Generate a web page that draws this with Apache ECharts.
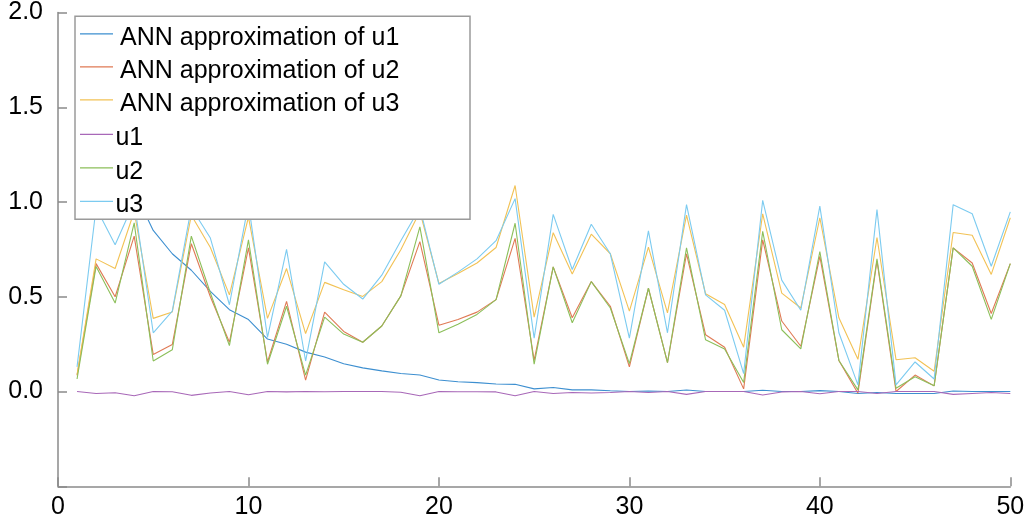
<!DOCTYPE html>
<html>
<head>
<meta charset="utf-8">
<script src="https://cdn.jsdelivr.net/npm/echarts@6/dist/echarts.min.js"></script>
<style>
html,body{margin:0;padding:0;background:#fff;}
#wrap{position:relative;width:1029px;height:523px;}
#chart{position:absolute;left:0;top:0;width:1029px;height:523px;}
#legendBox{position:absolute;left:74px;top:15px;width:398px;height:206px;}
</style>
</head>
<body>
<div id="wrap">
  <div id="chart"></div>
  <div id="legendBox"></div>
</div>
<script>
// x positions 1..50
const xs = Array.from({length: 50}, (_, i) => i + 1);
const xTicks = [0, 10, 20, 30, 40, 50];
const yTicks = [0.0, 0.5, 1.0, 1.5, 2.0];

const annU1 = [1.35,1.25,1.15,1.06,0.85,0.727,0.64,0.528,0.432,0.38,
  0.277,0.25,0.208,0.182,0.147,0.125,0.109,0.095,0.087,0.061,
  0.052,0.047,0.04,0.038,0.014,0.021,0.009,0.009,0.004,0.0,
  0.003,0.0,0.008,0.0,0.0,0.0,0.007,0.0,0.0,0.005,
  0.0,-0.01,-0.005,-0.01,-0.01,-0.01,0.003,0.0,0.0,0.0];
const annU2 = [0.085,0.675,0.50,0.82,0.196,0.248,0.78,0.50,0.26,0.758,
  0.156,0.476,0.06,0.419,0.317,0.26,0.346,0.505,0.791,0.35,
  0.38,0.419,0.485,0.808,0.164,0.658,0.389,0.58,0.45,0.13,
  0.545,0.152,0.727,0.30,0.234,0.014,0.80,0.372,0.239,0.713,
  0.164,-0.009,0.69,0.0,0.087,0.03,0.758,0.678,0.412,0.675];
const annU3 = [0.09,0.70,0.649,0.95,0.386,0.42,0.93,0.76,0.51,0.92,
  0.386,0.649,0.306,0.576,0.537,0.502,0.58,0.748,0.95,0.57,
  0.623,0.678,0.76,1.087,0.393,0.838,0.62,0.83,0.727,0.424,
  0.762,0.415,0.931,0.516,0.459,0.234,0.938,0.519,0.441,0.917,
  0.389,0.17,0.813,0.168,0.178,0.107,0.839,0.825,0.618,0.917];
const u1 = [0,-0.01,-0.006,-0.022,0,-0.001,-0.02,-0.008,0,-0.017,
  0,-0.002,0,-0.001,0,0,0,-0.004,-0.022,0,
  -0.001,-0.001,-0.002,-0.022,0,-0.01,-0.005,-0.008,-0.005,0,
  -0.005,0,-0.015,0,0,0,-0.018,-0.002,0,-0.012,
  0,0,-0.01,0,0,0,-0.015,-0.01,-0.005,-0.01];
const u2 = [0.066,0.66,0.467,0.89,0.161,0.22,0.82,0.52,0.242,0.80,
  0.144,0.45,0.087,0.393,0.303,0.26,0.346,0.505,0.869,0.31,
  0.355,0.407,0.485,0.888,0.144,0.658,0.363,0.58,0.441,0.147,
  0.545,0.152,0.758,0.273,0.225,0.048,0.845,0.326,0.225,0.739,
  0.164,0.009,0.70,0.017,0.078,0.03,0.758,0.661,0.381,0.675];
const u3 = [0.13,0.97,0.775,1.0,0.31,0.424,0.97,0.81,0.458,0.99,
  0.286,0.75,0.161,0.684,0.566,0.488,0.614,0.796,0.97,0.566,
  0.63,0.70,0.796,1.018,0.282,0.935,0.644,0.883,0.727,0.282,
  0.848,0.31,0.986,0.51,0.429,0.095,1.009,0.588,0.429,0.978,
  0.31,0.035,0.96,0.035,0.156,0.066,0.986,0.938,0.661,0.948];

const names = ['ANN approximation of u1','ANN approximation of u2','ANN approximation of u3','u1','u2','u3'];
const seriesData = [annU1, annU2, annU3, u1, u2, u3];
const colors = ['#3d8fd0','#e07a55','#f2c255','#a868b8','#8cbf5a','#7ccbf0'];

const FONT = 'Liberation Sans, Arial, sans-serif';
const axisGray = '#8a8a8a';

// ---------- main chart ----------
const chart = echarts.init(document.getElementById('chart'), null, {renderer: 'canvas'});
chart.setOption({
  animation: false,
  backgroundColor: '#fff',
  grid: {left: 58, right: 18.7, top: 4.7, bottom: 36.7, containLabel: false},
  xAxis: {
    type: 'value', min: 0, max: 50, interval: 10,
    axisLine: {show: true, onZero: false, lineStyle: {color: axisGray, width: 1.5}},
    axisTick: {show: true, inside: true, length: 9, lineStyle: {color: axisGray, width: 1.5}},
    axisLabel: {fontFamily: FONT, fontSize: 25, color: '#000', margin: 8,
      formatter: v => xTicks.includes(v) ? String(v) : ''},
    splitLine: {show: false}
  },
  yAxis: {
    type: 'value', min: -0.5, max: 2.0, interval: 0.5,
    axisLine: {show: true, onZero: false, lineStyle: {color: axisGray, width: 1.5}},
    axisTick: {show: true, inside: true, length: 9, lineStyle: {color: axisGray, width: 1.5}},
    axisLabel: {fontFamily: FONT, fontSize: 25, color: '#000', margin: 15,
      formatter: v => yTicks.some(t => Math.abs(t - v) < 1e-9) ? v.toFixed(1) : ''},
    splitLine: {show: false}
  },
  series: names.map((n, k) => ({
    name: n,
    type: 'line',
    data: xs.map((x, i) => [x, seriesData[k][i]]),
    showSymbol: false,
    symbol: 'none',
    lineStyle: {width: 1.1, color: colors[k]},
    itemStyle: {color: colors[k]},
    color: colors[k]
  }))
});

// ---------- legend box (overlay instance, opaque white box) ----------
const legendIcon = 'path://M0,0H33V1.2H0ZM0,9.59H0.01V9.6H0Z';
const legendCommon = {
  orient: 'vertical',
  icon: legendIcon,
  itemWidth: 33,
  itemHeight: 9.6,
  padding: 0,
  zlevel: 1,
  selectedMode: false
};
const legendChart = echarts.init(document.getElementById('legendBox'), null, {renderer: 'canvas'});
legendChart.setOption({
  animation: false,
  grid: {show: false, left: 0, right: 0, top: 0, bottom: 0},
  xAxis: {show: false, type: 'value'},
  yAxis: {show: false, type: 'value'},
  graphic: [{
    type: 'rect', zlevel: 0,
    shape: {x: 1, y: 1.3, width: 395, height: 203},
    style: {fill: '#fff', stroke: '#9a9a9a', lineWidth: 1.5}
  }],
  legend: [
    Object.assign({}, legendCommon, {
      left: 6, top: 10, itemGap: 7,
      data: names.slice(0, 3),
      textStyle: {fontFamily: FONT, fontSize: 25, color: '#000', lineHeight: 26, padding: [0, 0, 0, 2]}
    }),
    Object.assign({}, legendCommon, {
      left: 6, top: 110.5, itemGap: 7.5,
      data: names.slice(3),
      textStyle: {fontFamily: FONT, fontSize: 25, color: '#000', lineHeight: 26, padding: [0, 0, 0, -2.6]}
    })
  ],
  series: names.map((n, k) => ({
    name: n, type: 'line', data: [], showSymbol: false,
    lineStyle: {color: colors[k]}, itemStyle: {color: colors[k]}, color: colors[k]
  }))
});
</script>
</body>
</html>
